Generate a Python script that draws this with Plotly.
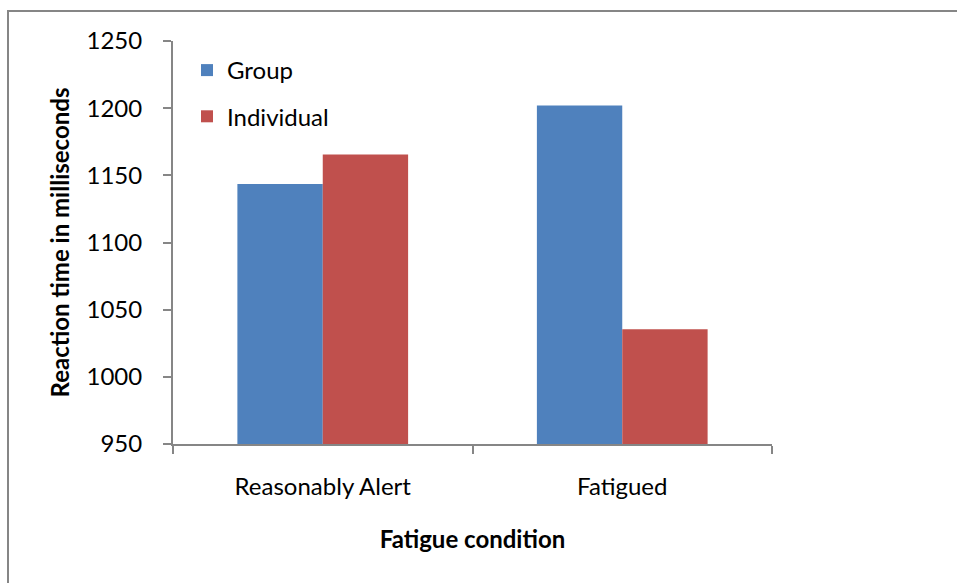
import plotly.graph_objects as go

categories = ["Reasonably Alert", "Fatigued"]
group_values = [1143.5, 1202.0]
individual_values = [1165.5, 1035.5]
series_names = ["Group", "Individual"]
y_ticks = [950, 1000, 1050, 1100, 1150, 1200, 1250]

W, H = 957, 583
L, R, T, B = 173, 185, 41, 139
pw, ph = W - L - R, H - T - B

FONT = "Lato"
FS = 24
AX = "#868686"


def px_x(px):
    return (px - L) / pw


def px_y(py):
    return (H - B - py) / ph


fig = go.Figure()
fig.add_trace(go.Bar(x=categories, y=group_values, name=series_names[0],
                     marker=dict(color="#4F81BD", line=dict(width=0)),
                     legendgroup="g1"))
fig.add_trace(go.Bar(x=categories, y=individual_values, name=series_names[1],
                     marker=dict(color="#C0504D", line=dict(width=0)),
                     legendgroup="g2"))

# outer chart border
fig.add_shape(type="rect", xref="paper", yref="paper",
              x0=px_x(8), x1=px_x(W + 5),
              y0=px_y(H + 5), y1=px_y(11),
              line=dict(color=AX, width=2), fillcolor="rgba(0,0,0,0)", layer="below")

fig.update_layout(
    width=W, height=H,
    margin=dict(l=L, r=R, t=T, b=B, autoexpand=False),
    paper_bgcolor="white", plot_bgcolor="white",
    font=dict(family=FONT, size=FS, color="#000000"),
    barmode="group", bargap=0.43, bargroupgap=0,
    showlegend=True,
    legend=dict(x=px_x(187), y=px_y(48), xanchor="left", yanchor="top",
                font=dict(family=FONT, size=FS, color="#000000"),
                tracegroupgap=12, traceorder="grouped",
                bgcolor="rgba(0,0,0,0)"),
    xaxis=dict(
        type="category", showgrid=False, zeroline=False,
        showline=True, linecolor=AX, linewidth=2,
        ticks="outside", tickson="boundaries", ticklen=8, tickcolor=AX, tickwidth=2,
        ticklabelstandoff=20,
        tickfont=dict(family=FONT, size=FS, color="#000000"),
        title=dict(text="<b>Fatigue condition</b>", standoff=32,
                   font=dict(family=FONT, size=FS, color="#000000")),
    ),
    yaxis=dict(
        range=[950, 1250], tickvals=y_ticks, ticktext=[str(v) for v in y_ticks],
        showgrid=False, zeroline=False,
        showline=True, linecolor=AX, linewidth=2,
        ticks="outside", ticklen=8, tickcolor=AX, tickwidth=2,
        ticklabelstandoff=16,
        tickfont=dict(family=FONT, size=FS, color="#000000"),
        title=dict(text="<b>Reaction time in milliseconds</b>", standoff=10,
                   font=dict(family=FONT, size=FS, color="#000000")),
    ),
)

fig.write_html("out.html")
